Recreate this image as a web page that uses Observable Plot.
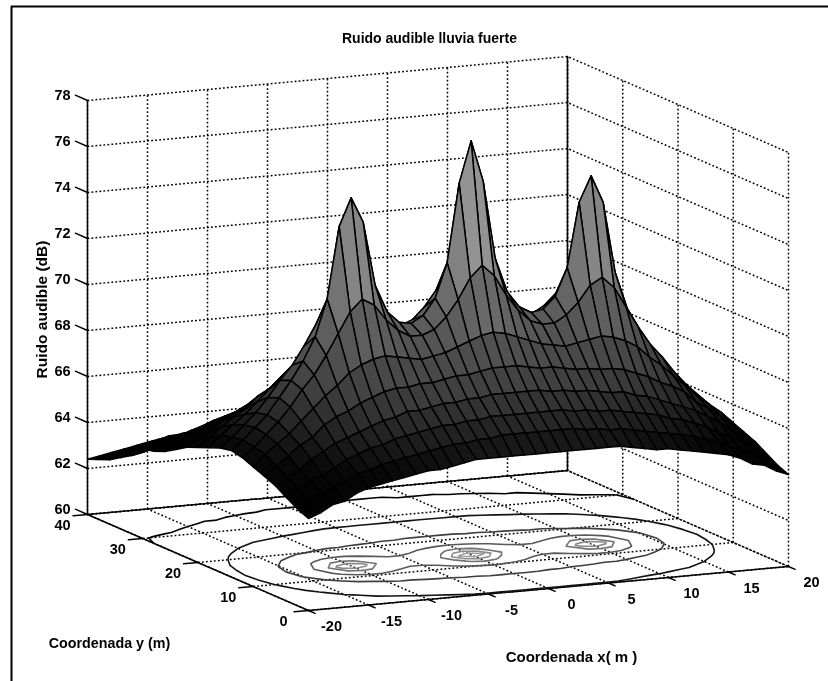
<!doctype html><html><head><meta charset="utf-8"><style>html,body{margin:0;background:#fff}svg{display:block;filter:blur(.5px)}</style></head><body>
<script src="https://cdn.jsdelivr.net/npm/d3@7"></script>
<script src="https://cdn.jsdelivr.net/npm/@observablehq/plot@0.6"></script>
<script>
// Audible noise (dB): one row per y (m), x = -20..20 in 1 m steps
const r0=[64.0,64.2,64.5,64.6,64.9,65.1,65.2,65.3,65.4,65.5,65.6,65.6,65.7,65.8,65.9,65.9,65.9,65.9,65.9,65.9,65.9,65.9,65.9,65.9,65.9,65.9,65.9,65.8,65.7,65.6,65.6,65.5,65.4,65.3,65.2,65.1,64.9,64.6,64.5,64.2,64.0];
const r2=[64.2,64.5,64.8,65.0,65.2,65.5,65.6,65.8,65.9,66.0,66.1,66.2,66.3,66.4,66.4,66.5,66.5,66.6,66.6,66.6,66.6,66.6,66.6,66.6,66.5,66.5,66.4,66.4,66.3,66.2,66.1,66.0,65.9,65.8,65.6,65.5,65.2,65.0,64.8,64.5,64.2];
const r4=[64.5,64.8,65.1,65.3,65.6,65.9,66.1,66.3,66.4,66.6,66.7,66.8,66.9,67.0,67.0,67.1,67.1,67.2,67.2,67.2,67.2,67.2,67.2,67.2,67.1,67.1,67.0,67.0,66.9,66.8,66.7,66.6,66.4,66.3,66.1,65.9,65.6,65.3,65.1,64.8,64.5];
const r6=[64.8,65.1,65.4,65.8,66.1,66.4,66.6,66.8,67.0,67.2,67.3,67.5,67.5,67.6,67.7,67.7,67.8,67.8,67.9,67.9,67.9,67.9,67.9,67.8,67.8,67.7,67.7,67.6,67.5,67.5,67.3,67.2,67.0,66.8,66.6,66.4,66.1,65.8,65.4,65.1,64.8];
const r8=[65.0,65.4,65.8,66.2,66.5,67.0,67.3,67.5,67.8,68.0,68.2,68.3,68.3,68.4,68.4,68.5,68.6,68.6,68.7,68.8,68.8,68.8,68.7,68.6,68.6,68.5,68.4,68.4,68.3,68.3,68.2,68.0,67.8,67.5,67.3,67.0,66.5,66.2,65.8,65.4,65.0];
const r10=[65.2,65.7,66.1,66.5,67.0,67.5,68.0,68.4,68.9,69.2,69.4,69.5,69.4,69.3,69.2,69.3,69.4,69.6,69.8,70.0,70.1,70.0,69.8,69.6,69.4,69.3,69.2,69.3,69.4,69.5,69.4,69.2,68.9,68.4,68.0,67.5,67.0,66.5,66.1,65.7,65.2];
const r12=[65.4,65.8,66.3,66.8,67.4,68.1,68.7,69.5,70.4,71.3,71.8,71.5,70.8,70.3,70.0,70.0,70.2,70.7,71.4,72.3,72.8,72.3,71.4,70.7,70.2,70.0,70.0,70.3,70.8,71.5,71.8,71.3,70.4,69.5,68.7,68.1,67.4,66.8,66.3,65.8,65.4];
const r14=[65.5,65.9,66.4,66.9,67.6,68.3,69.1,70.1,71.7,74.8,76.0,74.9,72.1,70.9,70.4,70.3,70.6,71.3,72.8,76.2,78.0,76.2,72.8,71.3,70.6,70.3,70.4,70.9,72.1,74.9,76.0,74.8,71.7,70.1,69.1,68.3,67.6,66.9,66.4,65.9,65.5];
const r30=[63.9,64.1,64.2,64.3,64.5,64.6,64.7,64.8,64.9,65.0,65.1,65.2,65.2,65.3,65.3,65.4,65.4,65.5,65.5,65.5,65.5,65.5,65.5,65.5,65.4,65.4,65.3,65.3,65.2,65.2,65.1,65.0,64.9,64.8,64.7,64.6,64.4,64.3,64.2,64.1,63.9];
const r32=[63.4,63.5,63.7,63.8,64.0,64.1,64.2,64.3,64.4,64.5,64.6,64.7,64.7,64.8,64.8,64.9,64.9,64.9,64.9,64.9,64.9,64.9,64.9,64.9,64.9,64.9,64.8,64.8,64.7,64.7,64.6,64.5,64.4,64.3,64.2,64.1,64.0,63.8,63.7,63.5,63.4];
const r34=[63.1,63.3,63.4,63.6,63.7,63.8,63.9,64.0,64.0,64.1,64.2,64.2,64.3,64.3,64.4,64.4,64.5,64.5,64.5,64.5,64.5,64.5,64.5,64.5,64.5,64.4,64.4,64.3,64.3,64.2,64.2,64.1,64.0,64.0,63.9,63.8,63.7,63.6,63.4,63.3,63.1];
const r36=[62.8,63.0,63.1,63.3,63.4,63.6,63.6,63.7,63.7,63.8,63.8,63.9,63.9,64.0,64.0,64.0,64.0,64.1,64.1,64.1,64.1,64.1,64.1,64.1,64.0,64.0,64.0,64.0,63.9,63.9,63.8,63.8,63.7,63.7,63.6,63.6,63.4,63.3,63.1,63.0,62.8];
const r38=[62.6,62.7,62.8,62.9,63.1,63.2,63.3,63.4,63.4,63.5,63.5,63.6,63.6,63.6,63.7,63.7,63.7,63.8,63.8,63.8,63.8,63.8,63.8,63.8,63.7,63.7,63.7,63.6,63.6,63.6,63.5,63.5,63.4,63.4,63.3,63.2,63.1,62.9,62.8,62.7,62.6];
const r40=[62.4,62.5,62.6,62.7,62.8,62.9,63.0,63.0,63.1,63.1,63.2,63.2,63.3,63.3,63.3,63.4,63.4,63.4,63.5,63.5,63.5,63.5,63.5,63.4,63.4,63.4,63.3,63.3,63.3,63.2,63.2,63.1,63.1,63.0,63.0,62.9,62.8,62.7,62.6,62.5,62.4];
const zRows=[r0,r2,r4,r6,r8,r10,r12,r14,r12,r10,r8,r6,r4,r2,r0,r30,r32,r34,r36,r38,r40];
const xTicks=[-20,-15,-10,-5,0,5,10,15,20];
const yTicks=[0,10,20,30,40];
const zTicks=[60,62,64,66,68,70,72,74,76,78];
const contourLevels=[64,66,68,70,72,74,76];
const xStep=1, yStep=2, xMin=-20, xMax=20, yMax=40;

// Fixed MATLAB-style oblique view of the box
const view={ox:308,oy:610,xx:12,xy:-1.1,yx:-5.525,yy:-2.4,zy:-23,z0:60};
const px=d=>view.ox+view.xx*(d.x-xMin)+view.yx*d.y;
const py=d=>view.oy+view.xy*(d.x-xMin)+view.yy*d.y+view.zy*((d.z??view.z0)-view.z0);
const depth=(x,y)=>5.525*x+12*y;

// Surface cells, far to near
const cells=[];
for(let j=0;j<zRows.length-1;j++)for(let i=0;i<zRows[0].length-1;i++){
  const xa=xMin+i*xStep,xb=xa+xStep,ya=j*yStep,yb=ya+yStep;
  const a=zRows[j][i],b=zRows[j][i+1],c=zRows[j+1][i+1],e=zRows[j+1][i];
  cells.push({xa,xb,ya,yb,a,b,c,e,v:(a+b+c+e)/4,d:depth(xa+.5,ya+1)});
}
cells.sort((p,q)=>q.d-p.d);
const surface=cells.flatMap((k,id)=>[
  {id,v:k.v,x:k.xa,y:k.ya,z:k.a},{id,v:k.v,x:k.xb,y:k.ya,z:k.b},
  {id,v:k.v,x:k.xb,y:k.yb,z:k.c},{id,v:k.v,x:k.xa,y:k.yb,z:k.e},{id,v:k.v,x:k.xa,y:k.ya,z:k.a}]);

// Floor contours from the same table
const nx=zRows[0].length,ny=zRows.length;
const contourLines=[];let cid=0;
d3.contours().size([nx,ny]).thresholds(contourLevels)(zRows.flat()).forEach(g=>{
  g.coordinates.forEach(poly=>poly.forEach(ring=>{
    cid++;
    ring.forEach(([cx,cy])=>{
      const on=cx>=.5&&cx<=nx-.5&&cy>=.5&&cy<=ny-.5;
      contourLines.push({id:cid,level:g.value,x:on?xMin+(cx-.5)*xStep:NaN,y:on?(cy-.5)*yStep:NaN});
    });
  }));
});

// Dotted grid on the floor and the two walls
const seg=(id,a,b)=>[{id,...a},{id,...b}];
const grid=[
  ...xTicks.flatMap(x=>seg("fx"+x,{x,y:0},{x,y:yMax})),
  ...yTicks.flatMap(y=>seg("fy"+y,{x:xMin,y},{x:xMax,y})),
  ...xTicks.flatMap(x=>seg("bx"+x,{x,y:yMax,z:60},{x,y:yMax,z:78})),
  ...yTicks.flatMap(y=>seg("ry"+y,{x:xMax,y,z:60},{x:xMax,y,z:78})),
  ...zTicks.flatMap(z=>[{id:"wz"+z,x:xMin,y:yMax,z},{id:"wz"+z,x:xMax,y:yMax,z},{id:"wz"+z,x:xMax,y:0,z}])
];
const solid=[
  ...seg("a",{x:xMin,y:0},{x:xMin,y:yMax}),
  ...seg("b",{x:xMin,y:0},{x:xMax,y:0}),
  ...seg("c",{x:xMin,y:yMax},{x:xMax,y:yMax}),
  ...seg("d",{x:xMin,y:yMax,z:60},{x:xMin,y:yMax,z:78}),
  ...seg("e",{x:xMax,y:yMax,z:60},{x:xMax,y:yMax,z:78})
];
const ticks=[
  ...xTicks.flatMap(x=>seg("tx"+x,{x,y:0},{x,y:-1.2})),
  ...yTicks.flatMap(y=>seg("ty"+y,{x:xMin,y},{x:xMin-1.2,y})),
  ...zTicks.flatMap(z=>seg("tz"+z,{x:xMin,y:yMax,z},{x:xMin,y:yMax+2.2,z}))
];

const font={fontFamily:"Liberation Sans",fontWeight:"bold",fill:"#000"};
const chart=Plot.plot({
  width:828,height:681,margin:0,axis:null,
  style:{background:"#fff"},
  x:{domain:[0,828],range:[0,828]},
  y:{domain:[0,681],range:[0,681]},
  color:{type:"linear",domain:[64,65.5,66.5,68,70,74,78],range:["#000000","#080808","#1e1e1e","#3e3e3e","#585858","#8c8c8c","#b0b0b0"]},
  marks:[
    Plot.ruleX([11],{y1:6,y2:681,stroke:"#000",strokeWidth:2}),
    Plot.ruleY([6],{x1:11,x2:828,stroke:"#000",strokeWidth:2}),
    Plot.line(grid,{x:px,y:py,z:"id",stroke:"#000",strokeWidth:1.5,strokeDasharray:"1.8,2.2",strokeLinecap:"butt"}),
    Plot.line(solid,{x:px,y:py,z:"id",stroke:"#000",strokeWidth:1.5}),
    Plot.line(ticks,{x:px,y:py,z:"id",stroke:"#000",strokeWidth:1.4}),
    Plot.line(contourLines,{x:px,y:py,z:"id",stroke:"level",strokeWidth:1.6}),
    Plot.line(surface,{x:px,y:py,z:"id",fill:"v",stroke:"#000",strokeWidth:1.5}),
    Plot.text(zTicks,{x:z=>px({x:xMin,y:yMax}),y:z=>py({x:xMin,y:yMax,z}),text:String,dx:-25,dy:-5.5,fontSize:14.5,...font}),
    Plot.text(yTicks,{x:y=>px({x:xMin,y}),y:y=>py({x:xMin,y}),text:String,dx:-25,dy:11,fontSize:14.5,...font}),
    Plot.text(xTicks,{x:x=>px({x,y:0}),y:x=>py({x,y:0}),text:String,dx:23,dy:16,fontSize:14.5,...font}),
    Plot.text(["Ruido audible lluvia fuerte"],{x:()=>429,y:()=>38,text:String,fontSize:14,...font}),
    Plot.text(["Ruido audible (dB)"],{x:()=>42,y:()=>309,text:String,rotate:-90,fontSize:15.5,...font}),
    Plot.text(["Coordenada y (m)"],{x:()=>109,y:()=>643,text:String,fontSize:14.3,...font}),
    Plot.text(["Coordenada x( m )"],{x:()=>571,y:()=>657,text:String,fontSize:15,...font})
  ]
});
document.body.append(chart);
</script></body></html>
